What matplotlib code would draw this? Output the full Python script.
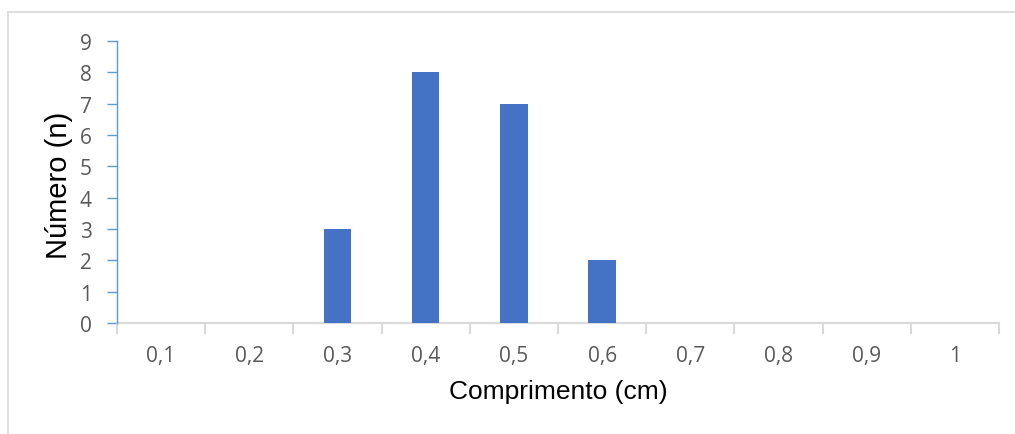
import numpy as np
import matplotlib
matplotlib.use("Agg")
import matplotlib.pyplot as plt
from matplotlib.lines import Line2D

categories = ["0,1", "0,2", "0,3", "0,4", "0,5", "0,6", "0,7", "0,8", "0,9", "1"]
counts = [0, 0, 3, 8, 7, 2, 0, 0, 0, 0]
y_ticks = list(range(0, 10))

W, H = 1015, 435
fig = plt.figure(figsize=(W / 100, H / 100), dpi=100)
ax = fig.add_axes([117 / W, 1 - 324 / H, (999 - 117) / W, (324 - 42) / H])

x = np.arange(len(categories))
ax.bar(x, counts, width=0.31, color="#4472C4", zorder=3)

ax.set_xlim(-0.5, len(categories) - 0.5)
ax.set_ylim(0, 9)

# category boundaries get the tick marks, centres get the labels
ax.set_xticks(np.arange(len(categories) + 1) - 0.5)
ax.set_xticklabels([])
ax.set_xticks(x, minor=True)
ax.set_xticklabels(categories, minor=True)
ax.tick_params(axis="x", which="major", direction="out", length=8, width=1.5,
               color="#D9D9D9")
ax.tick_params(axis="x", which="minor", length=0, pad=16, labelsize=15,
               labelcolor="#595959")
ax.set_yticks(y_ticks)
ax.tick_params(axis="y", direction="out", length=7, width=1, color="#5B9BD5",
               pad=11, labelsize=15, labelcolor="#595959")
for lab in ax.get_xticklabels(minor=True) + ax.get_yticklabels():
    lab.set_family("Open Sans")

for side in ["top", "right"]:
    ax.spines[side].set_visible(False)
ax.spines["bottom"].set_color("#D9D9D9")
ax.spines["bottom"].set_linewidth(1.5)
ax.spines["left"].set_color("#5B9BD5")
ax.spines["left"].set_linewidth(1)
ax.spines["left"].set_zorder(4)

fig.text(59 / W, 1 - 185 / H, "Número (n)", rotation=90, ha="center",
         va="center", fontsize=21, family="Liberation Sans", color="black")
fig.text(558 / W, 1 - 392 / H, "Comprimento (cm)", ha="center", va="center",
         fontsize=19, family="Liberation Sans", color="black")

# chart area border (only left and top edges show in the crop)
fig.add_artist(Line2D([7.5 / W, 7.5 / W], [0, 1 - 12.5 / H], color="#D9D9D9",
                      lw=1.2, transform=fig.transFigure))
fig.add_artist(Line2D([7.5 / W, 1], [1 - 12.5 / H, 1 - 12.5 / H],
                      color="#D9D9D9", lw=1.2, transform=fig.transFigure))

fig.savefig("out.png", dpi=100)
